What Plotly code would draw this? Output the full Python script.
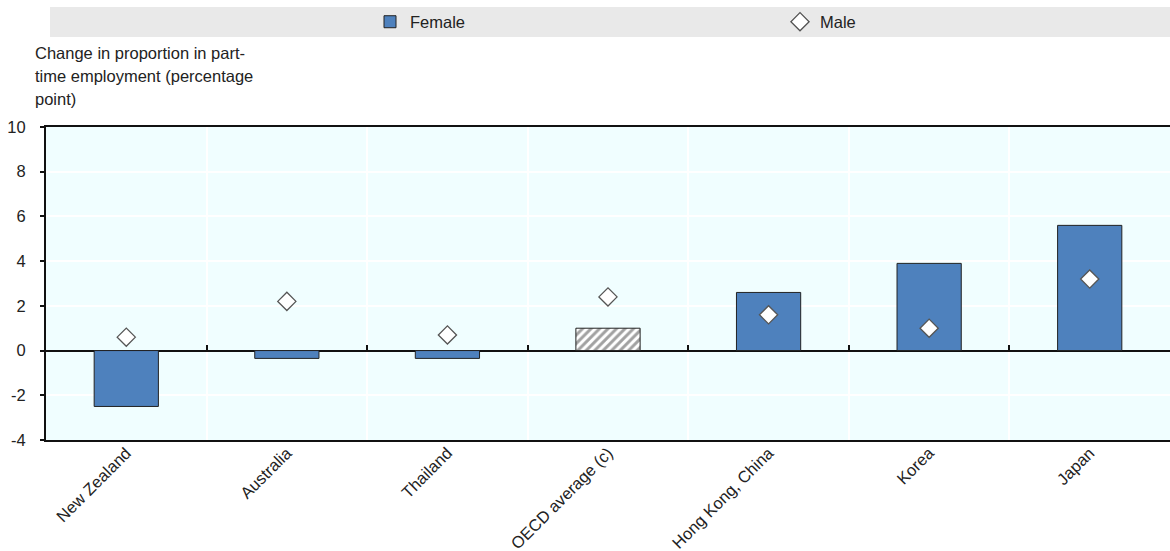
import plotly.graph_objects as go

categories = ["New Zealand", "Australia", "Thailand", "OECD average (c)", "Hong Kong, China", "Korea", "Japan"]
female = [-2.5, -0.35, -0.35, 1.0, 2.6, 3.9, 5.6]
male = [0.6, 2.2, 0.7, 2.4, 1.6, 1.0, 3.2]
y_ticks = [-4, -2, 0, 2, 4, 6, 8, 10]
y_tick_labels = ["-4", "-2", "0", "2", "4", "6", "8", "10"]
title_lines = ["Change in proportion in part-", "time employment (percentage", "point)"]

FONT = "Liberation Sans, Arial, sans-serif"
BLUE = "#4E81BD"
FS = 16.5

pattern_shapes = ["/" if c.startswith("OECD") else "" for c in categories]
bar_colors = ["white" if c.startswith("OECD") else BLUE for c in categories]

W, H = 1170, 551
L, T, B = 46, 127, 111
PW, PH = W - L, H - T - B


def px_x(x):
    return (x - L) / PW


def px_y(y):
    return (H - B - y) / PH


fig = go.Figure()
fig.add_trace(go.Bar(
    x=categories, y=female, name="Female", width=0.4,
    marker=dict(color=bar_colors, line=dict(color="#222222", width=1),
                pattern=dict(shape=pattern_shapes, fgcolor="#000000", bgcolor="white",
                             size=6, solidity=0.5)),
))
fig.add_trace(go.Scatter(
    x=categories, y=male, name="Male", mode="markers", xaxis="x2",
    marker=dict(symbol="diamond", size=14, color="white", line=dict(color="#555555", width=1.3)),
))

annotations = [dict(text=t, xref="paper", yref="paper", x=px_x(33), y=px_y(53 + 23 * i),
                    xanchor="left", yanchor="middle", align="left", showarrow=False,
                    font=dict(size=FS, color="#222222"))
               for i, t in enumerate(title_lines)]

fig.update_layout(
    width=W, height=H,
    margin=dict(l=L, r=0, t=T, b=B, autoexpand=False),
    paper_bgcolor="white", plot_bgcolor="#F0FEFF",
    font=dict(family=FONT, size=FS, color="#222222"),
    showlegend=True,
    legend=dict(orientation="h", xref="container", yref="container",
                x=370/W, xanchor="left", y=1 - 22/H, yanchor="middle",
                entrywidth=365, entrywidthmode="pixels", bgcolor="rgba(0,0,0,0)",
                font=dict(size=FS, color="#222222"), itemwidth=30,
                traceorder="normal"),
    bargap=0.6,
    xaxis=dict(type="category", categoryarray=categories, categoryorder="array",
               tickson="boundaries", showgrid=True, gridcolor="white", gridwidth=2,
               ticks="", showline=True, linecolor="#111111", linewidth=2, mirror=True,
               tickangle=-45, ticklabelstandoff=-5,
               tickfont=dict(size=FS, color="#222222"), automargin=False),
    xaxis2=dict(type="category", categoryarray=categories, categoryorder="array",
                overlaying="x", matches="x", anchor="free", position=4/14, side="bottom",
                tickson="boundaries", ticks="inside", ticklen=6, tickwidth=2, tickcolor="#111111",
                showticklabels=False, showgrid=False, showline=False, zeroline=False,
                automargin=False),
    yaxis=dict(range=[-4, 10], tickvals=y_ticks, ticktext=y_tick_labels,
               showgrid=True, gridcolor="white", gridwidth=2,
               zeroline=True, zerolinecolor="#111111", zerolinewidth=2,
               showline=True, linecolor="#111111", linewidth=2, mirror=False,
               ticks="outside", ticklen=4, tickcolor="#111111", tickwidth=1.5,
               ticklabelstandoff=11, automargin=False,
               tickfont=dict(size=FS, color="#222222")),
    shapes=[dict(type="rect", xref="paper", yref="paper",
                 x0=px_x(50), x1=1.0, y0=px_y(37), y1=px_y(7),
                 fillcolor="#E9E9E9", line=dict(width=0), layer="below")],
    annotations=annotations,
)

fig.write_html("out.html", config={"displayModeBar": False},
               post_script="document.body.style.margin='0';document.body.style.overflow='hidden';")
